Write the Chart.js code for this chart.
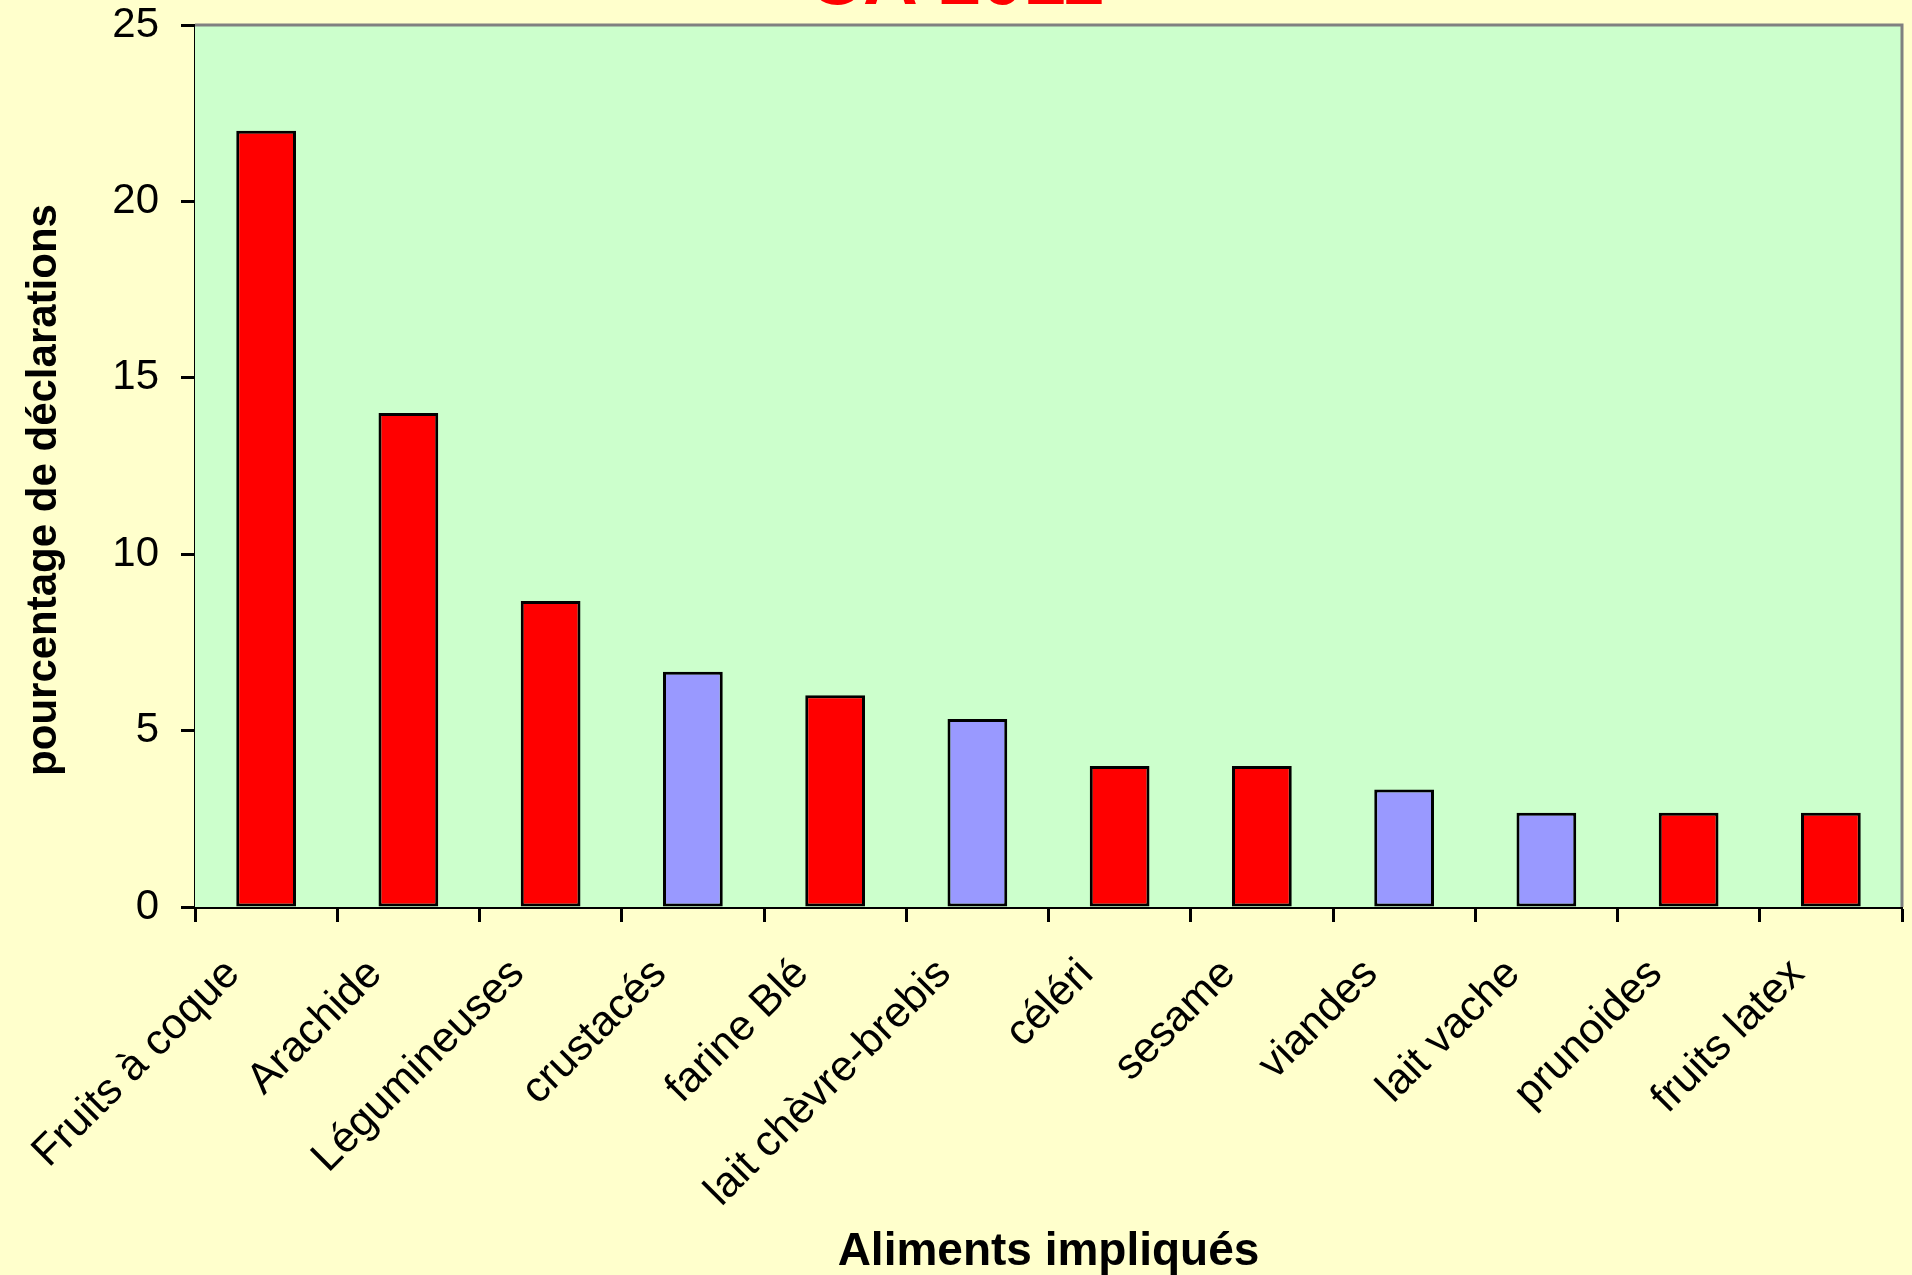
<!DOCTYPE html>
<html lang="fr">
<head>
<meta charset="utf-8">
<title>Aliments impliqués – CA 2011</title>
<script src="https://cdn.jsdelivr.net/npm/chart.js@4/dist/chart.umd.min.js"></script>
<style>
  html, body { margin: 0; padding: 0; background: #FFFFCC; }
  #wrap { width: 1912px; height: 1275px; }
</style>
</head>
<body>
<div id="wrap"><canvas id="c" width="1912" height="1275"></canvas></div>
<script>
// Foods involved in the declarations, in decreasing order
const categories = ['Fruits à coque', 'Arachide', 'Légumineuses', 'crustacés', 'farine Blé',
  'lait chèvre-brebis', 'céléri', 'sesame', 'viandes', 'lait vache', 'prunoides', 'fruits latex'];
// Percentage of declarations for each food
const percentages = [22, 14, 8.67, 6.67, 6, 5.33, 4, 4, 3.33, 2.67, 2.67, 2.67];
// Origin of each food: plant or animal
const origins = ['végétal', 'végétal', 'végétal', 'animal', 'végétal', 'animal',
  'végétal', 'végétal', 'animal', 'animal', 'végétal', 'végétal'];
// Value-axis ticks
const yTicks = [0, 5, 10, 15, 20, 25];

const titleText = 'CA 2011';
const xTitle = 'Aliments impliqués';
const yTitle = 'pourcentage de déclarations';

const originColors = { 'végétal': '#FF0000', 'animal': '#9999FF' };
const FONT = "'Liberation Sans', Arial, sans-serif";

// Plot-area background, grey frame, main title and vertical axis title
const decor = {
  id: 'decor',
  beforeDatasetsDraw(chart) {
    const { ctx, chartArea: a } = chart;
    ctx.save();
    ctx.fillStyle = '#CCFFCC';
    ctx.fillRect(a.left, a.top, a.right - a.left, a.bottom - a.top);
    ctx.strokeStyle = '#808080';
    ctx.lineWidth = 3;
    ctx.beginPath();
    ctx.moveTo(a.left, a.top);
    ctx.lineTo(a.right, a.top);
    ctx.lineTo(a.right, a.bottom);
    ctx.stroke();
    ctx.restore();
  },
  afterDraw(chart) {
    const { ctx, chartArea: a } = chart;
    ctx.save();
    // chart title, largely above the top edge
    ctx.fillStyle = '#FF0000';
    ctx.font = 'bold 76px ' + FONT;
    ctx.textAlign = 'center';
    ctx.textBaseline = 'alphabetic';
    ctx.fillText(titleText, chart.width / 2, 4);
    // vertical axis title
    ctx.fillStyle = '#000000';
    ctx.font = 'bold 42px ' + FONT;
    ctx.translate(44, (a.top + a.bottom) / 2 + 24);
    ctx.rotate(-Math.PI / 2);
    ctx.textBaseline = 'middle';
    ctx.fillText(yTitle, 0, 0);
    ctx.restore();
  }
};

new Chart(document.getElementById('c'), {
  type: 'bar',
  data: {
    labels: categories,
    datasets: [{
      data: percentages,
      backgroundColor: origins.map(o => originColors[o]),
      borderColor: '#000000',
      borderWidth: 3,
      borderSkipped: false,
      barPercentage: 0.42,
      categoryPercentage: 1
    }]
  },
  options: {
    responsive: false,
    animation: false,
    devicePixelRatio: 1,
    layout: { padding: { top: 25, right: 10, bottom: 0, left: 0 } },
    plugins: { legend: { display: false }, tooltip: { enabled: false }, title: { display: false } },
    scales: {
      x: {
        grid: { display: true, drawOnChartArea: false, drawTicks: true, tickLength: 15,
          tickColor: '#000000', tickWidth: 3, offset: true },
        border: { display: true, color: '#000000', width: 3 },
        ticks: {
          autoSkip: false, maxRotation: 45, minRotation: 45,
          color: '#000000', font: { family: FONT, size: 43 },
          padding: 27, labelOffset: -33
        },
        title: {
          display: true, text: xTitle, color: '#000000',
          font: { family: FONT, size: 46, weight: 'bold' }, padding: { top: 0, bottom: -5 }
        },
        afterFit(scale) {
          scale.height = 368;
          scale.paddingLeft = 0;
          scale.paddingRight = 0;
        }
      },
      y: {
        min: 0, max: 25,
        afterBuildTicks(scale) { scale.ticks = yTicks.map(v => ({ value: v })); },
        grid: { display: true, drawOnChartArea: false, drawTicks: true, tickLength: 14,
          tickColor: '#000000', tickWidth: 3 },
        border: { display: true, color: '#000000', width: 3 },
        ticks: { color: '#000000', font: { family: FONT, size: 42 }, padding: 22 },
        afterFit(scale) {
          scale.width = 195;
          scale.paddingTop = 0;
          scale.paddingBottom = 0;
        }
      }
    }
  },
  plugins: [decor]
});
</script>
</body>
</html>
